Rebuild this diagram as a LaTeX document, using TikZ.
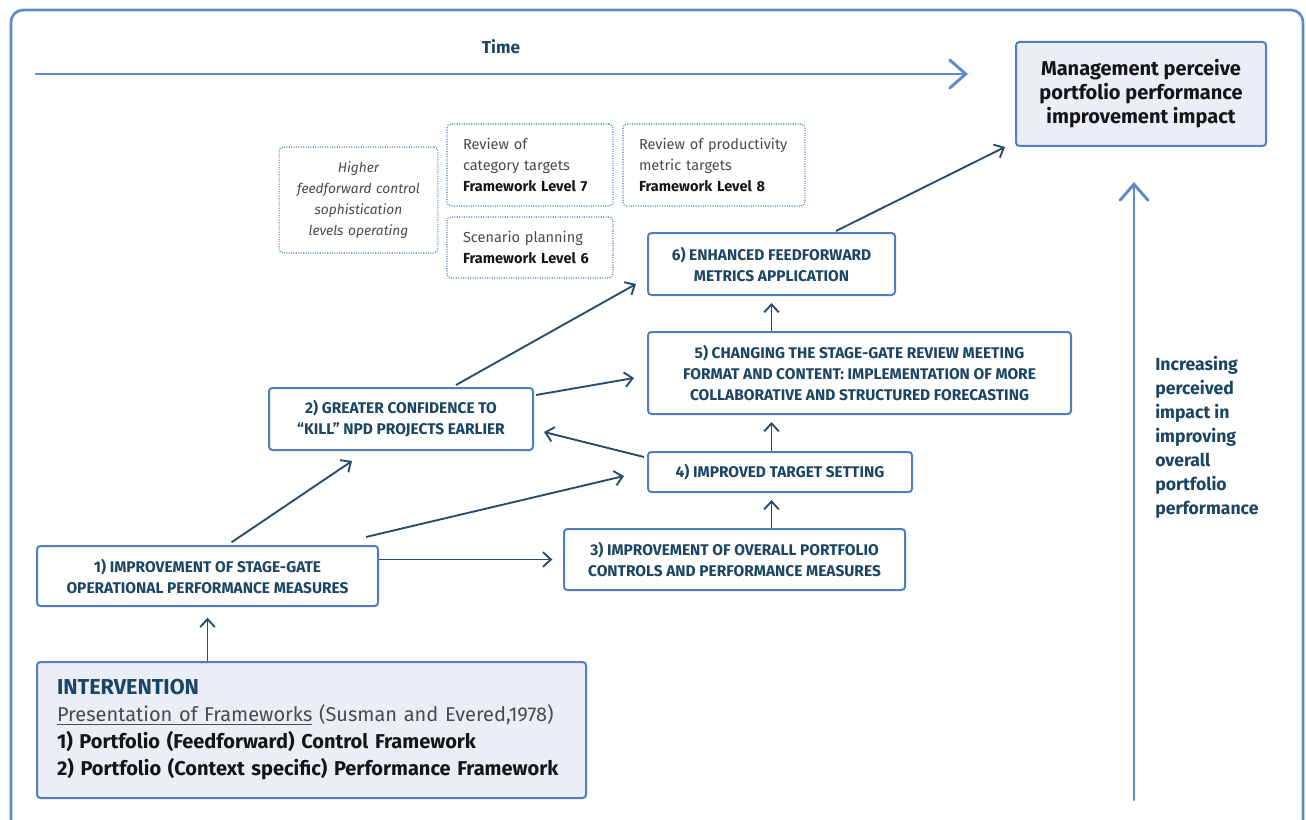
\documentclass[tikz,border=0pt]{standalone}
\usepackage{fontspec}
\setmainfont{Fira Sans}
\usetikzlibrary{arrows.meta,positioning,calc}
\definecolor{navy}{HTML}{1B4563}
\definecolor{linkcol}{HTML}{244C6C}
\definecolor{boxblue}{HTML}{4F7FC0}
\definecolor{lightblue}{HTML}{5E8BC9}
\definecolor{boxfill}{HTML}{E9EEF7}
\definecolor{greytext}{HTML}{4A4A4A}
\definecolor{inktext}{HTML}{151515}
\tikzstyle{stepbox}=[draw=boxblue,line width=1.5pt,rounded corners=2.5pt,fill=white,text=navy,font=\fontsize{11.6}{15.75}\selectfont\bfseries,align=center,inner sep=0pt]
\tikzstyle{levelbox}=[draw=boxblue,densely dotted,line width=0.8pt,rounded corners=3pt,text=greytext,font=\fontsize{10.9}{15.75}\selectfont,align=left,inner ysep=0pt,inner xsep=12pt]
\tikzstyle{flow}=[draw=linkcol,line width=1.4pt,-{Straight Barb[length=6pt,width=11pt]}]
\tikzstyle{bigflow}=[draw=lightblue,line width=2.2pt,line cap=round,-{Straight Barb[length=12pt,width=21pt,line cap=round]}]

\begin{document}
\begin{tikzpicture}[x=0.75pt,y=-0.75pt]
\clip (0,0) rectangle (1306,820);
% outer frame
\draw[draw=lightblue,line width=2pt,rounded corners=9pt] (11,10) rectangle (1303,840);

% time axis
\coordinate (t0) at (36,74);
\coordinate (t1) at (968,74);
\draw[bigflow] (t0) -- (t1);
\node[text=navy,font=\fontsize{12.9}{15}\selectfont\bfseries] (time) at (501,47) {Time};

% impact axis
\coordinate (v0) at (1134,800);
\coordinate (v1) at (1134,182);
\draw[bigflow] (v0) -- (v1);
\node[anchor=west,align=left,inner sep=0pt,text=navy,font=\fontsize{13.2}{18}\selectfont\bfseries] (impact) at (1155,437)
  {Increasing\\perceived\\impact in\\improving\\overall\\portfolio\\performance};

% outcome
\node[stepbox,fill=boxfill,text=inktext,font=\fontsize{15}{18}\selectfont\bfseries,minimum width=187.5pt,minimum height=78pt] (mgmt) at (1141,94)
  {Management perceive\\portfolio performance\\improvement impact};

% framework levels
\node[levelbox,align=center,font=\fontsize{10.3}{15.75}\selectfont\itshape,text width=105pt,inner xsep=7pt,minimum height=79.5pt] (higher) at (358.5,200)
  {Higher\\feedforward control\\sophistication\\levels operating};
\node[levelbox,text width=100.5pt,minimum height=61.5pt] (lvl7) at (530,165)
  {Review of\\category targets\\\textcolor{inktext}{\bfseries Framework Level 7}};
\node[levelbox,text width=112.5pt,minimum height=61.5pt] (lvl8) at (714,165)
  {Review of productivity\\metric targets\\\textcolor{inktext}{\bfseries Framework Level 8}};
\node[levelbox,text width=100.5pt,minimum height=45.75pt] (lvl6) at (530,247.5)
  {Scenario planning\\\textcolor{inktext}{\bfseries Framework Level 6}};

% steps
\node[stepbox,minimum width=255.75pt,minimum height=45pt] (b1) at (207.5,576)
  {1) IMPROVEMENT OF STAGE-GATE\\OPERATIONAL PERFORMANCE MEASURES};
\node[stepbox,minimum width=198pt,minimum height=46.5pt] (b2) at (401,419)
  {2) GREATER CONFIDENCE TO\\``KILL'' NPD PROJECTS EARLIER};
\node[stepbox,minimum width=255.75pt,minimum height=45.75pt] (b3) at (734.5,559.5)
  {3) IMPROVEMENT OF OVERALL PORTFOLIO\\CONTROLS AND PERFORMANCE MEASURES};
\node[stepbox,minimum width=198pt,minimum height=30pt] (b4) at (780,472)
  {4) IMPROVED TARGET SETTING};
\node[stepbox,minimum width=317.25pt,minimum height=61.5pt] (b5) at (859.5,373)
  {5) CHANGING THE STAGE-GATE REVIEW MEETING\\FORMAT AND CONTENT: IMPLEMENTATION OF MORE\\COLLABORATIVE AND STRUCTURED FORECASTING};
\node[stepbox,minimum width=185.25pt,minimum height=46.5pt] (b6) at (771.5,264)
  {6) ENHANCED FEEDFORWARD\\METRICS APPLICATION};

% intervention
\node[stepbox,fill=boxfill,align=left,text width=381.75pt,inner xsep=15pt,minimum height=102pt,text=inktext,font=\fontsize{15}{20.25}\selectfont\bfseries] (interv) at (311.5,730)
  {{\color{navy}\fontsize{16.2}{20.25}\selectfont INTERVENTION}\\
   {\mdseries\color{greytext}\underline{Presentation of Frameworks} (Susman and Evered,1978)}\\
   1) Portfolio (Feedforward) Control Framework\\
   2) Portfolio (Context specific) Performance Framework};

% links
\draw[flow] (b1.south |- interv.north) -- ([yshift=-8pt]b1.south);
\draw[flow] (b1.east |- b3.west) -- ([xshift=-8pt]b3.west);
\draw[flow] ([xshift=18pt,yshift=2pt]b1.north) -- ([xshift=-36.75pt,yshift=-7.5pt]b2.south);
\draw[flow] ([xshift=-9.75pt,yshift=6pt]b1.north east) -- ([xshift=-17.25pt,yshift=-3pt]b4.west);
\draw[flow] (b6.south |- b3.north) -- ([yshift=-5.25pt]b6.south |- b4.south);
\draw[flow] (b6.south |- b4.north) -- ([yshift=-5.25pt]b6.south |- b5.south);
\draw[flow] (b6.south |- b5.north) -- ([yshift=-5.25pt]b6.south);
\draw[flow] ([xshift=-2.25pt,yshift=-4.5pt]b4.north west) -- ([xshift=7.5pt,yshift=-9.75pt]b2.east);
\draw[flow] ([xshift=1.5pt,yshift=-6pt]b2.north east) -- ([xshift=-9.75pt,yshift=-3.75pt]b5.west);
\draw[flow] ([xshift=41.25pt,yshift=1.5pt]b2.north) -- ([xshift=-8.25pt,yshift=9pt]b6.south west);
\draw[flow] ([xshift=48.4pt,yshift=0.75pt]b6.north) -- ([xshift=-7.5pt]mgmt.south west);
\end{tikzpicture}
\end{document}
